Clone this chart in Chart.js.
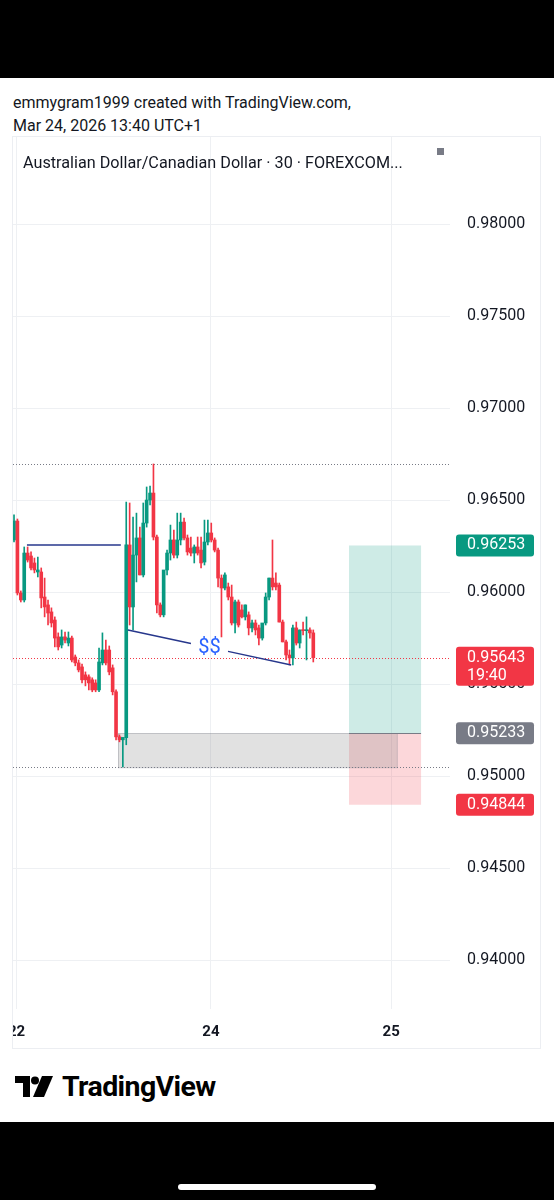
<!DOCTYPE html>
<html>
<head>
<meta charset="utf-8">
<script src="https://cdn.jsdelivr.net/npm/chart.js@4.4.1/dist/chart.umd.min.js"></script>
<style>
  body { margin: 0; width: 554px; height: 1200px; background: #fff; position: relative; overflow: hidden;
         font-family: Roboto, "Noto Sans", sans-serif; color: #131722; }
  .topbar { position: absolute; left: 0; top: 0; width: 554px; height: 78px; background: #000; }
  .botbar { position: absolute; left: 0; top: 1122px; width: 554px; height: 78px; background: #000; }
  .home { position: absolute; left: 178px; top: 62px; width: 198px; height: 6px; border-radius: 3px; background: #fff; }
  .head { position: absolute; left: 13px; top: 91px; font-size: 16px; line-height: 23px; }
  .frame { position: absolute; left: 12px; top: 136px; width: 529px; height: 913px; border: 1px solid #eceef2; box-sizing: border-box; }
  #wrap { position: absolute; left: 13px; top: 137px; width: 527px; height: 911px; }
  .title { position: absolute; left: 23px; top: 152px; font-size: 16.2px; line-height: 21px; }
  .sq { position: absolute; left: 437px; top: 148px; width: 7px; height: 7px; background: #787b86; }
  .logo { position: absolute; left: 15px; top: 1070px; height: 32px; display: flex; align-items: center; }
  .logo span { font-weight: 700; font-size: 28.5px; letter-spacing: -0.6px; margin-left: 9px; color: #000; }
</style>
</head>
<body>
<div class="topbar"></div>
<div class="head">emmygram1999 created with TradingView.com,<br>Mar 24, 2026 13:40 UTC+1</div>
<div class="frame"></div>
<div id="wrap"><canvas id="fxChart" width="527" height="911"></canvas></div>
<div class="title">Australian Dollar/Canadian Dollar · 30 · FOREXCOM...</div>
<div class="sq"></div>
<div class="logo">
  <svg width="38" height="21" viewBox="0 0 38 21">
    <path d="M0 0H15V21H8V7H0Z" fill="#000"/>
    <circle cx="20" cy="4.5" r="4" fill="#000"/>
    <path d="M27 0H38L29 21H18Z" fill="#000"/>
  </svg>
  <span>TradingView</span>
</div>
<div class="botbar"><div class="home"></div></div>

<script>
// AUD/CAD 30 min candles
var opens = [0.96283,0.96386,0.95995,0.95957,0.96212,0.96196,0.96158,0.96109,0.96109,0.95973,
  0.95930,0.95892,0.95848,0.95756,0.95712,0.95756,0.95723,0.95750,0.95647,0.95615,
  0.95593,0.95550,0.95539,0.95523,0.95506,0.95468,0.95615,0.95685,0.95685,0.95588,
  0.95458,0.95213,0.95197,0.95208,0.96256,0.95919,0.96201,0.96294,0.96093,0.96375,
  0.96500,0.96538,0.96299,0.95930,0.95876,0.96120,0.96212,0.96283,0.96201,0.96283,
  0.96380,0.96294,0.96239,0.96212,0.96245,0.96228,0.96163,0.96272,0.96321,0.96283,
  0.96228,0.96076,0.96022,0.96028,0.95973,0.95832,0.95946,0.95903,0.95865,0.95876,
  0.95805,0.95832,0.95805,0.95750,0.95832,0.95973,0.96076,0.96049,0.96038,0.95837,
  0.95729,0.95658,0.95642,0.95805,0.95723,0.95794,0.95790,0.95794,0.95778];
var highs = [0.96419,0.96397,0.96006,0.96245,0.96245,0.96218,0.96185,0.96190,0.96131,0.96076,
  0.95957,0.95914,0.95865,0.95778,0.95794,0.95783,0.95783,0.95761,0.95658,0.95631,
  0.95609,0.95566,0.95550,0.95534,0.95523,0.95696,0.95778,0.95739,0.95707,0.95604,
  0.95468,0.95224,0.95208,0.96489,0.96484,0.96408,0.96429,0.96353,0.96484,0.96571,
  0.96576,0.96696,0.96310,0.95941,0.95957,0.96228,0.96364,0.96337,0.96429,0.96429,
  0.96402,0.96310,0.96299,0.96256,0.96299,0.96299,0.96391,0.96391,0.96375,0.96294,
  0.96239,0.96093,0.96104,0.96049,0.96038,0.95957,0.95957,0.95930,0.95930,0.95892,
  0.95848,0.95848,0.95821,0.95821,0.95995,0.96076,0.96283,0.96104,0.96049,0.95848,
  0.95739,0.95685,0.95821,0.95837,0.95794,0.95837,0.95865,0.95805,0.95794];
var lows = [0.96272,0.95984,0.95946,0.95946,0.96163,0.96120,0.96104,0.96082,0.95914,0.95865,
  0.95821,0.95810,0.95702,0.95685,0.95696,0.95723,0.95707,0.95620,0.95599,0.95566,
  0.95506,0.95490,0.95468,0.95458,0.95458,0.95458,0.95604,0.95604,0.95550,0.95441,
  0.95197,0.95186,0.95050,0.95170,0.95821,0.95794,0.96055,0.96093,0.96082,0.96353,
  0.96473,0.96283,0.95886,0.95865,0.95865,0.96093,0.96174,0.96185,0.96185,0.96256,
  0.96283,0.96201,0.96196,0.96158,0.96201,0.96131,0.96147,0.96256,0.96272,0.96218,
  0.96028,0.95756,0.96011,0.95957,0.95821,0.95778,0.95810,0.95859,0.95848,0.95767,
  0.95783,0.95767,0.95712,0.95739,0.95821,0.95957,0.96011,0.96011,0.95837,0.95729,
  0.95631,0.95604,0.95604,0.95712,0.95696,0.95767,0.95631,0.95750,0.95620];
var closes = [0.96386,0.95995,0.95957,0.96212,0.96174,0.96131,0.96120,0.96120,0.95968,0.95919,
  0.95886,0.95832,0.95750,0.95702,0.95756,0.95739,0.95750,0.95631,0.95615,0.95577,
  0.95523,0.95523,0.95506,0.95468,0.95468,0.95620,0.95685,0.95615,0.95566,0.95458,
  0.95213,0.95197,0.95210,0.96256,0.95919,0.96201,0.96294,0.96093,0.96375,0.96500,
  0.96538,0.96299,0.95930,0.95876,0.96120,0.96212,0.96283,0.96201,0.96283,0.96380,
  0.96294,0.96218,0.96212,0.96245,0.96212,0.96158,0.96272,0.96321,0.96283,0.96228,
  0.96076,0.96022,0.96093,0.95973,0.95832,0.95946,0.95821,0.95865,0.95930,0.95805,
  0.95832,0.95794,0.95750,0.95832,0.95973,0.96076,0.96028,0.96028,0.95837,0.95729,
  0.95658,0.95642,0.95805,0.95723,0.95794,0.95790,0.95794,0.95778,0.95643];

// axis ticks
var priceTicks = [0.98, 0.975, 0.97, 0.965, 0.96, 0.955, 0.95, 0.945, 0.94];
var dayLabels = ['22', '24', '25'];
var dayIndex = [0.76, 57.9, 110.9];

// drawings (prices and bar positions)
var highLine = 0.96696, lowLine = 0.95047, lastPrice = 0.95643, lastTimer = '19:40';
var targetPrice = 0.96253, entryPrice = 0.95233, stopPrice = 0.94844;
var positionBars = [98.5, 119.7];
var zoneBars = [30.6, 112.6];
var levelLine = { from: 3.8, to: 31.4, price: 0.96256 };
var trendLine = { from: [33.5, 0.95794], to: [81.5, 0.95604], label: '$$' };

var upColor = '#089981', downColor = '#f23645';

var idx = opens.map(function (_, i) { return i; });
var colors = idx.map(function (i) { return closes[i] >= opens[i] ? upColor : downColor; });

function hLine(ctx, area, y, price, color, dash) {
  var py = Math.round(y.getPixelForValue(price)) + 0.5;
  ctx.save();
  ctx.strokeStyle = color;
  ctx.lineWidth = 1;
  ctx.setLineDash(dash);
  ctx.beginPath();
  ctx.moveTo(area.left, py);
  ctx.lineTo(area.right, py);
  ctx.stroke();
  ctx.restore();
}

function rect(ctx, x, y, b0, b1, p0, p1, fill) {
  var l = x.getPixelForValue(b0), r = x.getPixelForValue(b1);
  var t = y.getPixelForValue(p0), b = y.getPixelForValue(p1);
  ctx.fillStyle = fill;
  ctx.fillRect(l, t, r - l, b - t);
}

function tag(ctx, y, price, lines, color) {
  var py = y.getPixelForValue(price);
  var h = lines.length > 1 ? 39 : 22;
  var top = py - 11, left = 443, w = 78;
  ctx.fillStyle = color;
  ctx.beginPath();
  ctx.roundRect(left, top, w, h, 3);
  ctx.fill();
  ctx.fillStyle = '#fff';
  ctx.font = '16px Roboto';
  ctx.textBaseline = 'middle';
  ctx.textAlign = 'left';
  lines.forEach(function (s, k) { ctx.fillText(s, 454, py + k * 18); });
}

var drawings = {
  id: 'drawings',
  beforeDatasetsDraw: function (chart) {
    var ctx = chart.ctx, x = chart.scales.x, y = chart.scales.y, area = chart.chartArea;
    ctx.save();
    // long position tool
    rect(ctx, x, y, positionBars[0], positionBars[1], targetPrice, entryPrice, 'rgba(8,153,129,0.2)');
    rect(ctx, x, y, positionBars[0], positionBars[1], entryPrice, stopPrice, 'rgba(242,54,69,0.2)');
    // gray zone
    rect(ctx, x, y, zoneBars[0], zoneBars[1], entryPrice, lowLine, 'rgba(128,128,128,0.24)');
    ctx.strokeStyle = 'rgba(120,123,134,0.35)';
    ctx.lineWidth = 1;
    ctx.strokeRect(Math.round(x.getPixelForValue(zoneBars[0])) + 0.5, Math.round(y.getPixelForValue(entryPrice)) + 0.5,
      x.getPixelForValue(zoneBars[1]) - x.getPixelForValue(zoneBars[0]),
      y.getPixelForValue(lowLine) - y.getPixelForValue(entryPrice));
    // entry line
    var ey = Math.round(y.getPixelForValue(entryPrice)) + 0.5;
    ctx.strokeStyle = '#787b86';
    ctx.beginPath();
    ctx.moveTo(x.getPixelForValue(positionBars[0]), ey);
    ctx.lineTo(x.getPixelForValue(positionBars[1]), ey);
    ctx.stroke();
    hLine(ctx, area, y, highLine, '#787b86', [1, 2]);
    hLine(ctx, area, y, lowLine, '#787b86', [1, 2]);
    hLine(ctx, area, y, lastPrice, '#f23645', [1, 2]);
    ctx.restore();
  },
  afterDatasetsDraw: function (chart) {
    var ctx = chart.ctx, x = chart.scales.x, y = chart.scales.y;
    ctx.save();
    ctx.strokeStyle = '#27378c';
    ctx.lineWidth = 1.5;
    var ly = y.getPixelForValue(levelLine.price);
    ctx.beginPath();
    ctx.moveTo(x.getPixelForValue(levelLine.from), ly);
    ctx.lineTo(x.getPixelForValue(levelLine.to), ly);
    ctx.stroke();
    // trend line with a gap for its label
    var x0 = x.getPixelForValue(trendLine.from[0]), y0 = y.getPixelForValue(trendLine.from[1]);
    var x1 = x.getPixelForValue(trendLine.to[0]), y1 = y.getPixelForValue(trendLine.to[1]);
    var g0 = 0.386, g1 = 0.613;
    ctx.beginPath();
    ctx.moveTo(x0, y0);
    ctx.lineTo(x0 + (x1 - x0) * g0, y0 + (y1 - y0) * g0);
    ctx.moveTo(x0 + (x1 - x0) * g1, y0 + (y1 - y0) * g1);
    ctx.lineTo(x1, y1);
    ctx.stroke();
    ctx.fillStyle = '#2962ff';
    ctx.font = '20px Roboto';
    ctx.textAlign = 'center';
    ctx.textBaseline = 'middle';
    ctx.fillText(trendLine.label, (x0 + x1) / 2, (y0 + y1) / 2 + 1);
    ctx.restore();
  },
  afterDraw: function (chart) {
    var ctx = chart.ctx, y = chart.scales.y;
    ctx.save();
    tag(ctx, y, targetPrice, [targetPrice.toFixed(5)], upColor);
    tag(ctx, y, lastPrice, [lastPrice.toFixed(5), lastTimer], downColor);
    tag(ctx, y, entryPrice, [entryPrice.toFixed(5)], '#787b86');
    tag(ctx, y, stopPrice, [stopPrice.toFixed(5)], downColor);
    ctx.restore();
  }
};

var ctx = document.getElementById('fxChart').getContext('2d');
new Chart(ctx, {
  type: 'bar',
  data: {
    datasets: [
      {
        label: 'wicks',
        data: idx.map(function (i) { return { x: i, y: [lows[i], highs[i]] }; }),
        backgroundColor: colors,
        barThickness: 1,
        grouped: false,
        minBarLength: 1
      },
      {
        label: 'bodies',
        data: idx.map(function (i) { return { x: i, y: [opens[i], closes[i]] }; }),
        backgroundColor: colors,
        barThickness: 3,
        grouped: false,
        minBarLength: 1
      }
    ]
  },
  options: {
    responsive: false,
    animation: false,
    layout: { padding: 0 },
    plugins: { legend: { display: false }, tooltip: { enabled: false } },
    scales: {
      x: {
        type: 'linear',
        min: -0.3,
        max: 128.2,
        offset: false,
        border: { display: false },
        grid: { color: '#eef0f3', drawTicks: false, offset: false },
        afterBuildTicks: function (s) { s.ticks = dayIndex.map(function (v) { return { value: v }; }); },
        afterFit: function (s) { s.height = 39; s.paddingLeft = 0; s.paddingRight = 0; },
        ticks: {
          autoSkip: false,
          maxRotation: 0,
          padding: 14,
          color: '#131722',
          font: { family: 'Roboto', size: 15, weight: 'bold' },
          callback: function (v, i) { return dayLabels[i]; }
        }
      },
      y: {
        position: 'right',
        min: 0.93734,
        max: 0.98473,
        border: { display: false },
        grid: { color: '#eef0f3', drawTicks: false },
        afterBuildTicks: function (s) { s.ticks = priceTicks.map(function (v) { return { value: v }; }); },
        afterFit: function (s) { s.width = 90; s.paddingTop = 0; s.paddingBottom = 0; },
        ticks: {
          padding: 17,
          color: '#131722',
          font: { family: 'Roboto', size: 16 },
          callback: function (v) { return v.toFixed(5); }
        }
      }
    }
  },
  plugins: [drawings]
});
</script>
</body>
</html>
